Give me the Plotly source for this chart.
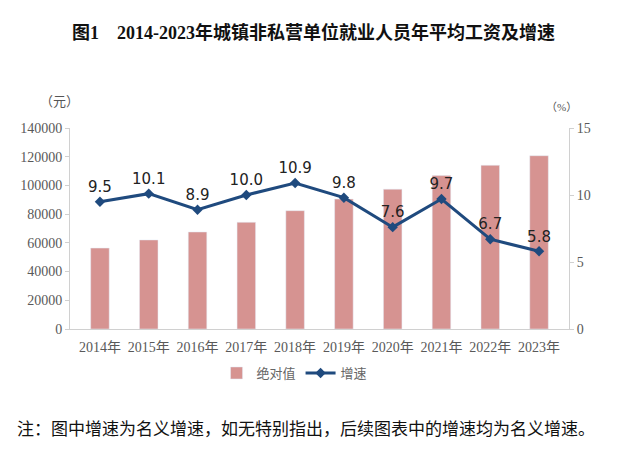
import plotly.graph_objects as go

years = ["2014年", "2015年", "2016年", "2017年", "2018年", "2019年", "2020年", "2021年", "2022年", "2023年"]
wages = [56360, 62029, 67569, 74318, 82413, 90501, 97379, 106837, 114029, 120698]
growth = [9.5, 10.1, 8.9, 10.0, 10.9, 9.8, 7.6, 9.7, 6.7, 5.8]
growth_labels = ["9.5", "10.1", "8.9", "10.0", "10.9", "9.8", "7.6", "9.7", "6.7", "5.8"]
left_ticks = [0, 20000, 40000, 60000, 80000, 100000, 120000, 140000]
left_ticktext = ["0", "20000", "40000", "60000", "80000", "100000", "120000", "140000"]
right_ticks = [0, 5, 10, 15]

serif = "Liberation Serif, Noto Sans CJK SC"
fig = go.Figure()
fig.add_trace(go.Bar(x=years, y=wages, name="绝对值", marker_color="#D69391",
                     width=0.38, yaxis="y"))
fig.add_trace(go.Scatter(x=years, y=growth, name="增速", yaxis="y2",
                         mode="lines+markers+text", text=growth_labels,
                         textposition="top center",
                         textfont=dict(family="DejaVu Sans", size=15, color="#222222"),
                         line=dict(color="#1F4A7E", width=3),
                         marker=dict(symbol="diamond", size=8, color="#1F4A7E")))

fig.update_layout(
    width=627, height=457,
    margin=dict(l=70, r=58, t=128, b=128),
    paper_bgcolor="white", plot_bgcolor="white",
    showlegend=True,
    legend=dict(orientation="h", x=0.45, xanchor="center", y=-0.219, yanchor="middle",
                font=dict(family="Noto Sans CJK SC", size=13, color="#666666")),
    title=dict(text="<b>图1　2014-2023年城镇非私营单位就业人员年平均工资及增速</b>",
               x=0.5, xanchor="center", y=0.928, yanchor="middle",
               font=dict(family=serif, size=18, color="#111111")),
    xaxis=dict(showline=True, linecolor="#D0D0D0", ticks="", showgrid=False,
               ticklabelstandoff=5,
               tickfont=dict(family=serif, size=14, color="#595959")),
    yaxis=dict(range=[0, 140000], tickvals=left_ticks, ticktext=left_ticktext,
               showgrid=False, zeroline=False,
               showline=True, linecolor="#D0D0D0", ticks="outside", ticklen=4,
               tickcolor="#D0D0D0",
               tickfont=dict(family=serif, size=14, color="#595959")),
    yaxis2=dict(range=[0, 15], tickvals=right_ticks, overlaying="y", side="right",
                showgrid=False, zeroline=False, showline=True, linecolor="#D0D0D0",
                ticks="outside", ticklen=4, tickcolor="#D0D0D0",
                tickfont=dict(family=serif, size=14, color="#595959")),
    annotations=[
        dict(text="（元）", xref="paper", yref="paper", x=-0.022, y=1.134, showarrow=False,
             font=dict(family=serif, size=13, color="#555555"), xanchor="center", yanchor="middle"),
        dict(text="（%）", xref="paper", yref="paper", x=0.984, y=1.104, showarrow=False,
             font=dict(family=serif, size=11, color="#555555"), xanchor="center", yanchor="middle"),
        dict(text="注：图中增速为名义增速，如无特别指出，后续图表中的增速均为名义增速。",
             xref="paper", yref="paper", x=-0.11, xanchor="left", y=-0.488, yanchor="middle",
             showarrow=False,
             font=dict(family="Noto Sans CJK SC", size=17, color="#111111")),
    ],
)
fig.write_html("out.html", config={"displayModeBar": False},
               post_script="document.body.style.margin='0';")
